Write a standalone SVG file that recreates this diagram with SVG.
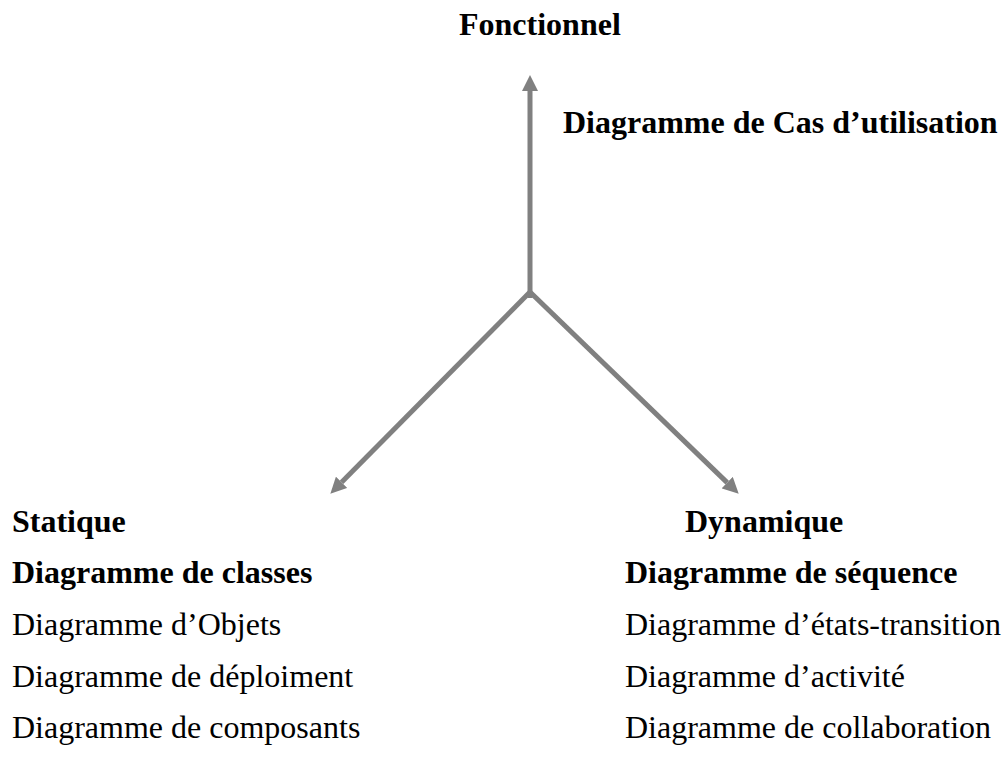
<svg xmlns="http://www.w3.org/2000/svg" width="1006" height="758" viewBox="0 0 1006 758">
  <style>
    text { font-family: "Liberation Serif", "Times New Roman", serif; font-size: 32px; fill: #000; }
    .b { font-weight: bold; }
    .axis { stroke: #808080; stroke-width: 5; fill: none; marker-end: url(#head); }
  </style>
  <defs>
    <marker id="head" markerUnits="userSpaceOnUse" markerWidth="16" markerHeight="16" viewBox="0 0 16 16" refX="0" refY="8" orient="auto">
      <path d="M0,0 L16,8 L0,16 z" fill="#808080"/>
    </marker>
  </defs>
  <rect width="1006" height="758" fill="#fff"/>

  <g id="connectors">
    <line class="axis" x1="530" y1="298" x2="530" y2="91"/>
    <line class="axis" x1="530" y1="292" x2="341.6" y2="482.3"/>
    <line class="axis" x1="530" y1="292" x2="727.2" y2="482.6"/>
  </g>

  <g id="fonctionnel">
    <text class="b" x="459" y="35">Fonctionnel</text>
    <text class="b" x="563" y="133">Diagramme de Cas d’utilisation</text>
  </g>

  <g id="statique">
    <text class="b" x="12" y="532">Statique</text>
    <text class="b" x="12" y="583">Diagramme de classes</text>
    <text x="12" y="635">Diagramme d’Objets</text>
    <text x="12" y="687">Diagramme de déploiment</text>
    <text x="12" y="738">Diagramme de composants</text>
  </g>

  <g id="dynamique">
    <text class="b" x="685" y="532">Dynamique</text>
    <text class="b" x="625" y="583">Diagramme de séquence</text>
    <text x="625" y="635">Diagramme d’états-transition</text>
    <text x="625" y="687">Diagramme d’activité</text>
    <text x="625" y="738">Diagramme de collaboration</text>
  </g>
</svg>
